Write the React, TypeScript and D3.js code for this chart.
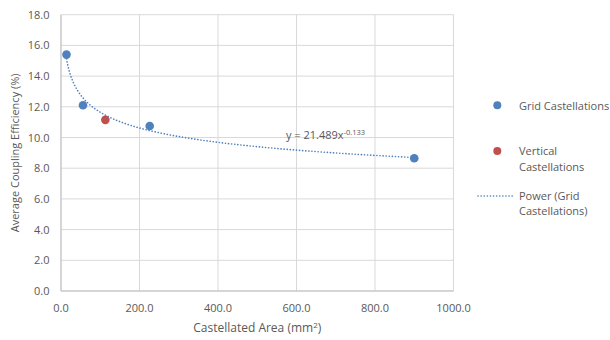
import React, { useEffect, useRef } from 'react';
import * as d3 from 'd3';

// data
const gridArea = [14, 56, 226, 900];
const gridEfficiency = [15.4, 12.1, 10.75, 8.65];
const verticalArea = [113];
const verticalEfficiency = [11.15];
const xTicks = [0, 200, 400, 600, 800, 1000];
const yTicks = [0, 2, 4, 6, 8, 10, 12, 14, 16, 18];
// power trendline coefficients as printed on the chart
const fitA = 21.489;
const fitB = -0.133;

const BLUE = '#4F81BD';
const RED = '#C0504D';
const TEXT = '#595959';
const FONT = '"Open Sans", "Noto Sans", sans-serif';

const App = () => {
  const ref = useRef<SVGSVGElement | null>(null);

  useEffect(() => {
    const svg = d3.select(ref.current);
    svg.selectAll('*').remove();

    const left = 61, right = 453.5, top = 14.7, bottom = 291;

    const x = d3.scaleLinear().domain([0, 1000]).range([left, right]);
    const y = d3.scaleLinear().domain([0, 18]).range([bottom, top]);

    // gridlines
    const grid = svg.append('g');
    grid.selectAll('line.h')
      .data(yTicks)
      .enter()
      .append('line')
      .attr('x1', left).attr('x2', right)
      .attr('y1', d => y(d)).attr('y2', d => y(d))
      .attr('stroke', '#d9d9d9').attr('stroke-width', 1);
    grid.selectAll('line.v')
      .data(xTicks)
      .enter()
      .append('line')
      .attr('y1', top).attr('y2', bottom)
      .attr('x1', d => x(d)).attr('x2', d => x(d))
      .attr('stroke', '#d9d9d9').attr('stroke-width', 1);

    // axis lines
    svg.append('line')
      .attr('x1', left).attr('x2', right).attr('y1', bottom).attr('y2', bottom)
      .attr('stroke', '#bfbfbf').attr('stroke-width', 1);
    svg.append('line')
      .attr('x1', left).attr('x2', left).attr('y1', top).attr('y2', bottom)
      .attr('stroke', '#bfbfbf').attr('stroke-width', 1);

    // tick labels
    svg.append('g')
      .selectAll('text')
      .data(yTicks)
      .enter()
      .append('text')
      .attr('x', 49.5)
      .attr('y', d => y(d) + 4)
      .attr('text-anchor', 'end')
      .attr('fill', TEXT)
      .style('font-family', FONT)
      .style('font-size', '11px')
      .text(d => d.toFixed(1));

    svg.append('g')
      .selectAll('text')
      .data(xTicks)
      .enter()
      .append('text')
      .attr('x', d => x(d))
      .attr('y', 312)
      .attr('text-anchor', 'middle')
      .attr('fill', TEXT)
      .style('font-family', FONT)
      .style('font-size', '11px')
      .text(d => d.toFixed(1));

    // axis titles
    const xt = svg.append('text')
      .attr('x', (left + right) / 2)
      .attr('y', 332)
      .attr('text-anchor', 'middle')
      .attr('fill', TEXT)
      .style('font-family', FONT)
      .style('font-size', '12px');
    xt.append('tspan').text('Castellated Area (mm');
    xt.append('tspan').attr('dy', -4).style('font-size', '8px').text('2');
    xt.append('tspan').attr('dy', 4).text(')');

    svg.append('text')
      .attr('transform', `translate(19,${(top + bottom) / 2}) rotate(-90)`)
      .attr('text-anchor', 'middle')
      .attr('fill', TEXT)
      .style('font-family', FONT)
      .style('font-size', '11px')
      .text('Average Coupling Efficiency (%)');

    // power trendline
    const xs = d3.range(gridArea[0], d3.max(gridArea)! + 1, 2);
    const line = d3.line<number>()
      .x(d => x(d))
      .y(d => y(fitA * Math.pow(d, fitB)));
    svg.append('path')
      .datum(xs)
      .attr('d', line)
      .attr('fill', 'none')
      .attr('stroke', BLUE)
      .attr('stroke-width', 1.6)
      .attr('stroke-dasharray', '0.1 3')
      .attr('stroke-linecap', 'round');

    // points
    svg.append('g')
      .selectAll('circle')
      .data(gridArea.map((a, i) => ({ a, e: gridEfficiency[i] })))
      .enter()
      .append('circle')
      .attr('cx', d => x(d.a))
      .attr('cy', d => y(d.e))
      .attr('r', 4.3)
      .attr('fill', BLUE);
    svg.append('g')
      .selectAll('circle')
      .data(verticalArea.map((a, i) => ({ a, e: verticalEfficiency[i] })))
      .enter()
      .append('circle')
      .attr('cx', d => x(d.a))
      .attr('cy', d => y(d.e))
      .attr('r', 4.3)
      .attr('fill', RED);

    // equation label
    const eq = svg.append('text')
      .attr('x', 286)
      .attr('y', 139)
      .attr('fill', TEXT)
      .style('font-family', FONT)
      .style('font-size', '11px');
    eq.append('tspan').text(`y = ${fitA}x`);
    eq.append('tspan').attr('dy', -4).style('font-size', '7.5px').text(`${fitB}`);

    // legend
    const lg = svg.append('g').style('font-family', FONT).style('font-size', '11px');
    lg.append('circle').attr('cx', 497.3).attr('cy', 105.3).attr('r', 4).attr('fill', BLUE);
    lg.append('text').attr('x', 519).attr('y', 109.5).attr('fill', TEXT).text('Grid Castellations');
    lg.append('circle').attr('cx', 497.3).attr('cy', 151).attr('r', 4).attr('fill', RED);
    lg.append('text').attr('x', 519).attr('y', 155).attr('fill', TEXT).text('Vertical');
    lg.append('text').attr('x', 519).attr('y', 170.5).attr('fill', TEXT).text('Castellations');
    lg.append('line')
      .attr('x1', 478).attr('x2', 513).attr('y1', 196).attr('y2', 196)
      .attr('stroke', BLUE).attr('stroke-width', 1.6)
      .attr('stroke-dasharray', '0.1 3').attr('stroke-linecap', 'round');
    lg.append('text').attr('x', 519).attr('y', 199.5).attr('fill', TEXT).text('Power (Grid');
    lg.append('text').attr('x', 519).attr('y', 215).attr('fill', TEXT).text('Castellations)');
  }, []);

  return (
    <svg
      ref={ref}
      width={610}
      height={340}
      style={{ position: 'absolute', left: 0, top: 0, background: '#fff' }}
    />
  );
};

export default App;
